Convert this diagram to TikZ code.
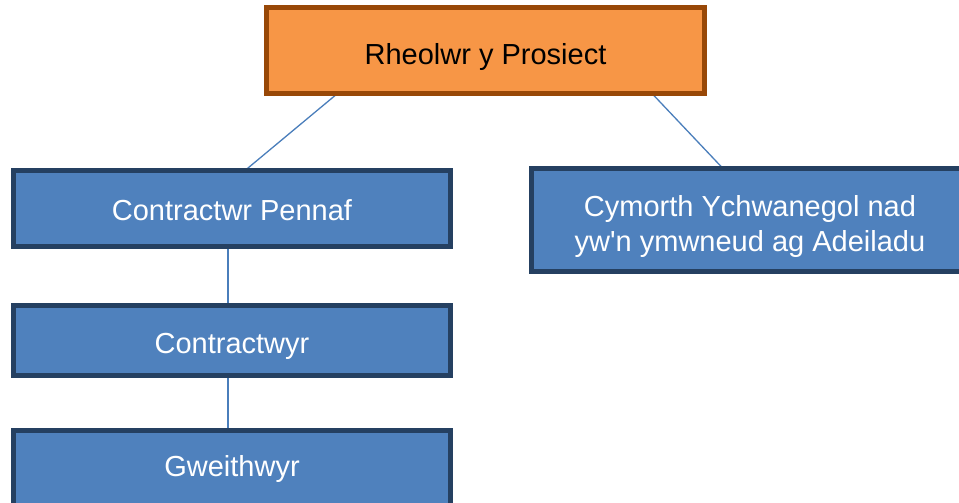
\documentclass[tikz,border=0pt]{standalone}
\usepackage{fontspec}
\setmainfont{Liberation Sans}[Ligatures=TeXOff]
\usetikzlibrary{backgrounds,calc}
\definecolor{orfill}{HTML}{F79646}
\definecolor{ordraw}{HTML}{984807}
\definecolor{blfill}{HTML}{4F81BD}
\definecolor{bldraw}{HTML}{254061}
\definecolor{conn}{HTML}{4A7EBB}
\tikzset{
  orbox/.style={draw=ordraw, fill=orfill, line width=5pt, outer sep=0pt, inner sep=0pt,
    minimum width=438pt, minimum height=86pt, text=black, align=center,
    font=\fontsize{29}{35}\selectfont},
  blbox/.style={draw=bldraw, fill=blfill, line width=5pt, outer sep=0pt, inner sep=0pt,
    minimum width=437pt, text=white, align=center,
    font=\fontsize{29}{35}\selectfont},
  link/.style={draw=conn, line width=1.3pt}
}
\begin{document}
\begin{tikzpicture}[x=1pt,y=-1pt]
\clip (0,0) rectangle (959,503);
\node[orbox, text height=29pt, text depth=0pt] (pm) at (485.5,50.5) {Rheolwr y Prosiect};
\node[blbox, minimum height=76pt, text height=23pt, text depth=0pt] (cp) at (232,208.5) {Contractwr Pennaf};
\node[blbox, minimum height=70pt, text height=25.6pt, text depth=0pt] (cw) at (232,340.5) {Contractwyr};
\node[blbox, minimum height=80pt, text height=12.4pt, text depth=0pt] (gw) at (232,470.5) {Gweithwyr};
\node[blbox, minimum height=103pt] (cy) at (750,220) {\rule{0pt}{35pt}Cymorth Ychwanegol nad\\yw'n ymwneud ag Adeiladu\rule[-6.6pt]{0pt}{6.6pt}};
\begin{scope}[on background layer]
\fill[white] (0,0) rectangle (959,503);
\draw[link] ($(pm.south west)+(71,0)$) -- ($(cp.north west)+(231.5,0)$);
\draw[link] ($(pm.south west)+(385.5,0)$) -- ($(cy.north west)+(191.5,0)$);
\draw[link] ([xshift=-4pt]cp.south) -- ([xshift=-4pt]cw.north);
\draw[link] ([xshift=-4pt]cw.south) -- ([xshift=-4pt]gw.north);
\end{scope}
\end{tikzpicture}
\end{document}
